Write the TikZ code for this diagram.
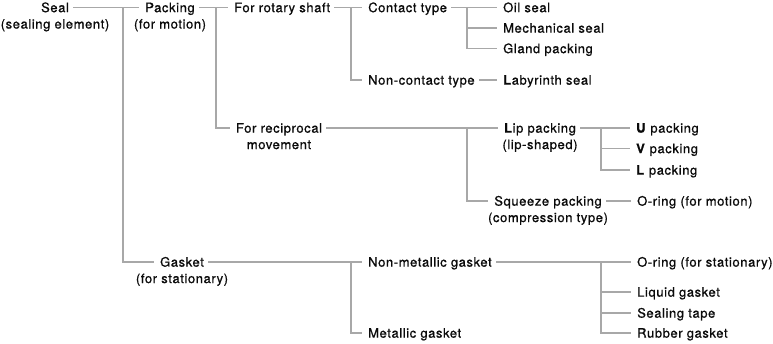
\documentclass[tikz,border=0pt]{standalone}
\usepackage{fontspec}
\setmainfont{TeX Gyre Heros}[LetterSpace=4.5, FakeBold=0.8]
\usetikzlibrary{positioning}
\definecolor{linegray}{HTML}{A8A8A8}
\definecolor{textdark}{HTML}{0A0A0A}

\begin{document}
\begin{tikzpicture}[
  x=1pt, y=-1pt,
  label distance=5.3pt,
  lbl/.style={inner sep=0pt, text height=10pt, text depth=0.7pt, text=textdark, font=\fontsize{13}{16}\selectfont},
  leaf/.style={lbl, anchor=west},
  twoline/.style={lbl, anchor=center, label={[lbl]below:#1}},
  conn/.style={draw=linegray, line width=1.6pt}
]
  \useasboundingbox (0,0) rectangle (773,343);

  % level 1 and 2
  \node[twoline={(sealing element)}] (seal) at (55,7.5) {Seal};
  \node[twoline={(for motion)}] (packing) at (170,7.5) {Packing};
  \node[twoline={(for stationary)}] (gasket) at (182,262) {Gasket};

  % packing branch
  \node[leaf] (rotary) at (234,7.5) {For rotary shaft};
  \node[twoline={movement}] (recip) at (279,128) {For reciprocal};
  \node[leaf] (contact) at (368,7.5) {Contact type};
  \node[leaf] (noncontact) at (368,80) {Non-contact type};
  \node[leaf] (oilseal) at (503,7.5) {Oil seal};
  \node[leaf] (mech) at (503,28) {Mechanical seal};
  \node[leaf] (gland) at (503,48.5) {Gland packing};
  \node[leaf] (labyrinth) at (503,80) {\textbf{L}abyrinth seal};
  \node[twoline={(lip-shaped)}] (lip) at (540,128) {\textbf{L}ip packing};
  \node[twoline={(compression type)}] (squeeze) at (548,201) {Squeeze packing};
  \node[leaf] (upack) at (636,128) {\textbf{U} packing};
  \node[leaf] (vpack) at (636,148.5) {\textbf{V} packing};
  \node[leaf] (lpack) at (636,170) {\textbf{L} packing};
  \node[leaf] (oringm) at (637,201) {O-ring (for motion)};

  % gasket branch
  \node[leaf] (nonmetal) at (368,262) {Non-metallic gasket};
  \node[leaf] (metal) at (368,333) {Metallic gasket};
  \node[leaf] (orings) at (637,262) {O-ring (for stationary)};
  \node[leaf] (liquid) at (637,292) {Liquid gasket};
  \node[leaf] (tape) at (637,313) {Sealing tape};
  \node[leaf] (rubber) at (637,333) {Rubber gasket};

  % junctions
  \coordinate (j1) at (123,7.5);
  \coordinate (j2) at (216,7.5);
  \coordinate (j3) at (351,7.5);
  \coordinate (j4) at (467,7.5);
  \coordinate (j5) at (467,128);
  \coordinate (j6) at (601,128);
  \coordinate (j7) at (351,262);
  \coordinate (j8) at (601,262);

  % connectors
  \foreach \a/\b in {seal/packing, packing/rotary, rotary/contact, contact/oilseal,
                     noncontact/labyrinth, recip/lip, lip/upack, squeeze/oringm,
                     gasket/nonmetal, nonmetal/orings}
    \draw[conn] ([xshift=4pt]\a.east) -- ([xshift=-6pt]\b.west);
  \foreach \j/\b in {j1/gasket, j2/recip, j3/noncontact, j4/mech, j4/gland,
                     j5/squeeze, j6/vpack, j6/lpack, j7/metal,
                     j8/liquid, j8/tape, j8/rubber}
    \draw[conn] (\j) |- ([xshift=-6pt]\b.west);
\end{tikzpicture}
\end{document}
